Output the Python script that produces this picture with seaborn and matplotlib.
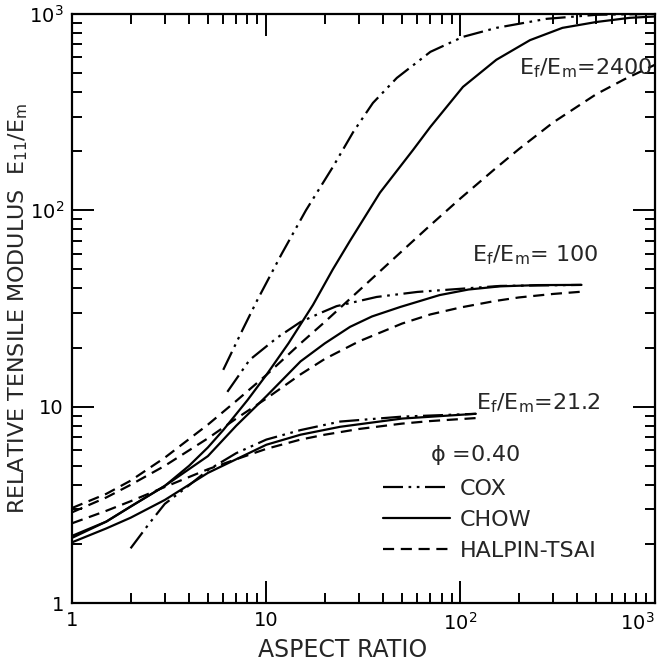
import numpy as np
import pandas as pd
import matplotlib
matplotlib.use("Agg")
import matplotlib.pyplot as plt
from matplotlib.lines import Line2D
import seaborn as sns

# aspect ratio / relative modulus (phi = 0.40)
cox_2400_x = [6, 7.6, 9, 12, 16, 22, 28, 35.4, 47, 70, 103, 153, 278, 503, 1000]
cox_2400_y = [15.4, 25, 35, 60, 100, 166, 250, 352, 472, 641, 764, 849, 944, 990, 1000]
chow_2400_x = [1, 1.5, 2, 3, 4, 5, 6, 8, 10, 13, 17.4, 22, 27, 38.5, 57, 70, 103, 153, 228, 335, 503, 745, 1000]
chow_2400_y = [2.2, 2.6, 3.1, 3.95, 5.0, 6.2, 7.6, 10.8, 14.5, 21, 33, 50, 70, 123, 203, 266, 425, 584, 735, 849, 910, 955, 970]
ht_2400_x = [1, 1.5, 2, 3, 5, 7, 10, 15, 20, 30, 50, 70, 100, 150, 200, 300, 500, 700, 1000]
ht_2400_y = [3.05, 3.6, 4.2, 5.5, 8.1, 10.7, 14.5, 21, 27, 39, 62, 84, 115, 162, 205, 280, 390, 465, 550]

cox_100_x = [6.3, 8.2, 11.4, 15, 19, 23, 37, 60, 80, 160, 420]
cox_100_y = [11.9, 17.3, 22.5, 27, 30, 32.5, 36.2, 38.4, 39.2, 41.2, 41.7]
chow_100_x = [1, 1.5, 2, 3, 5, 7, 10, 15, 20, 27, 35, 49, 78, 110, 160, 250, 420]
chow_100_y = [2.15, 2.6, 3.1, 3.95, 5.6, 8.0, 11.3, 17.0, 21.0, 25.5, 28.8, 32.2, 37, 39.5, 41, 41.6, 41.7]
ht_100_x = [1, 1.5, 2, 3, 5, 7, 10, 15, 20, 30, 50, 70, 100, 150, 200, 300, 420]
ht_100_y = [2.9, 3.45, 4.0, 5.0, 6.9, 8.7, 11.0, 14.6, 17.5, 21.5, 26.5, 29.5, 32, 34.5, 36, 37.5, 38.5]

cox_21_x = [2, 2.5, 3, 3.9, 5, 7, 10, 15, 24, 50, 120]
cox_21_y = [1.9, 2.55, 3.2, 3.9, 4.75, 5.8, 6.8, 7.6, 8.4, 8.9, 9.2]
chow_21_x = [1, 1.5, 2, 3, 5, 7, 10, 15, 24, 50, 120]
chow_21_y = [2.04, 2.4, 2.72, 3.35, 4.6, 5.4, 6.4, 7.2, 7.9, 8.7, 9.2]
ht_21_x = [1, 1.5, 2, 3, 5, 7, 10, 15, 20, 30, 50, 70, 120]
ht_21_y = [2.55, 2.95, 3.3, 3.9, 4.8, 5.4, 6.1, 6.8, 7.2, 7.7, 8.2, 8.45, 8.75]

tick_vals = [1, 10, 100, 1000]
tick_labels = ["1", "10", "10$^2$", "10$^3$"]

sns.set_style("ticks")
plt.rcParams["font.family"] = ["DejaVu Sans"]
plt.rcParams["mathtext.default"] = "regular"

COX = (0, (9, 2.5, 1.2, 2.5, 1.2, 2.5))
CHOW = "-"
HT = (0, (5, 3))

fig = plt.figure(figsize=(6.68, 6.62), dpi=100)
ax = fig.add_axes([0.108, 0.089, 0.872, 0.890])

curves = [
    (cox_2400_x, cox_2400_y, COX), (chow_2400_x, chow_2400_y, CHOW), (ht_2400_x, ht_2400_y, HT),
    (cox_100_x, cox_100_y, COX), (chow_100_x, chow_100_y, CHOW), (ht_100_x, ht_100_y, HT),
    (cox_21_x, cox_21_y, COX), (chow_21_x, chow_21_y, CHOW), (ht_21_x, ht_21_y, HT),
]
for xs, ys, ls in curves:
    sns.lineplot(x=xs, y=ys, ax=ax, color="black", linewidth=1.6, linestyle=ls,
                 estimator=None, sort=False)

ax.set_xscale("log")
ax.set_yscale("log")
ax.set_xlim(1, 1000)
ax.set_ylim(1, 1000)
ax.set_xticks(tick_vals)
ax.set_xticklabels(tick_labels)
ax.set_yticks(tick_vals)
ax.set_yticklabels(tick_labels)
ax.tick_params(which="both", direction="in", top=True, right=True, width=1.4, labelsize=14, colors="black")
ax.tick_params(which="major", length=16, pad=6)
ax.tick_params(which="minor", length=7)
ax.get_xticklabels()[-1].set_horizontalalignment("right")
for s in ax.spines.values():
    s.set_linewidth(1.6)
    s.set_color("black")

ax.set_xlabel("ASPECT RATIO", fontsize=17)
ax.xaxis.set_label_coords(0.465, -0.06)
ax.set_ylabel("RELATIVE TENSILE MODULUS  E$_{11}$/E$_m$", fontsize=16)
ax.yaxis.set_label_coords(-0.072, 0.5)

ax.text(200, 530, "E$_f$/E$_m$=2400", fontsize=16, va="center")
ax.text(115, 59, "E$_f$/E$_m$= 100", fontsize=16, va="center")
ax.text(120, 10.4, "E$_f$/E$_m$=21.2", fontsize=16, va="center")
ax.text(70, 5.7, "$\\phi$ =0.40", fontsize=16, va="center")

handles = [Line2D([], [], color="black", lw=1.6, linestyle=COX),
           Line2D([], [], color="black", lw=1.6, linestyle=CHOW),
           Line2D([], [], color="black", lw=1.6, linestyle=HT)]
ax.legend(handles, ["COX", "CHOW", "HALPIN-TSAI"], loc="upper left", bbox_to_anchor=(0.50, 0.245),
          frameon=False, fontsize=16, handlelength=3.0, handletextpad=0.45, labelspacing=0.5)

fig.savefig("out.png", dpi=100)
